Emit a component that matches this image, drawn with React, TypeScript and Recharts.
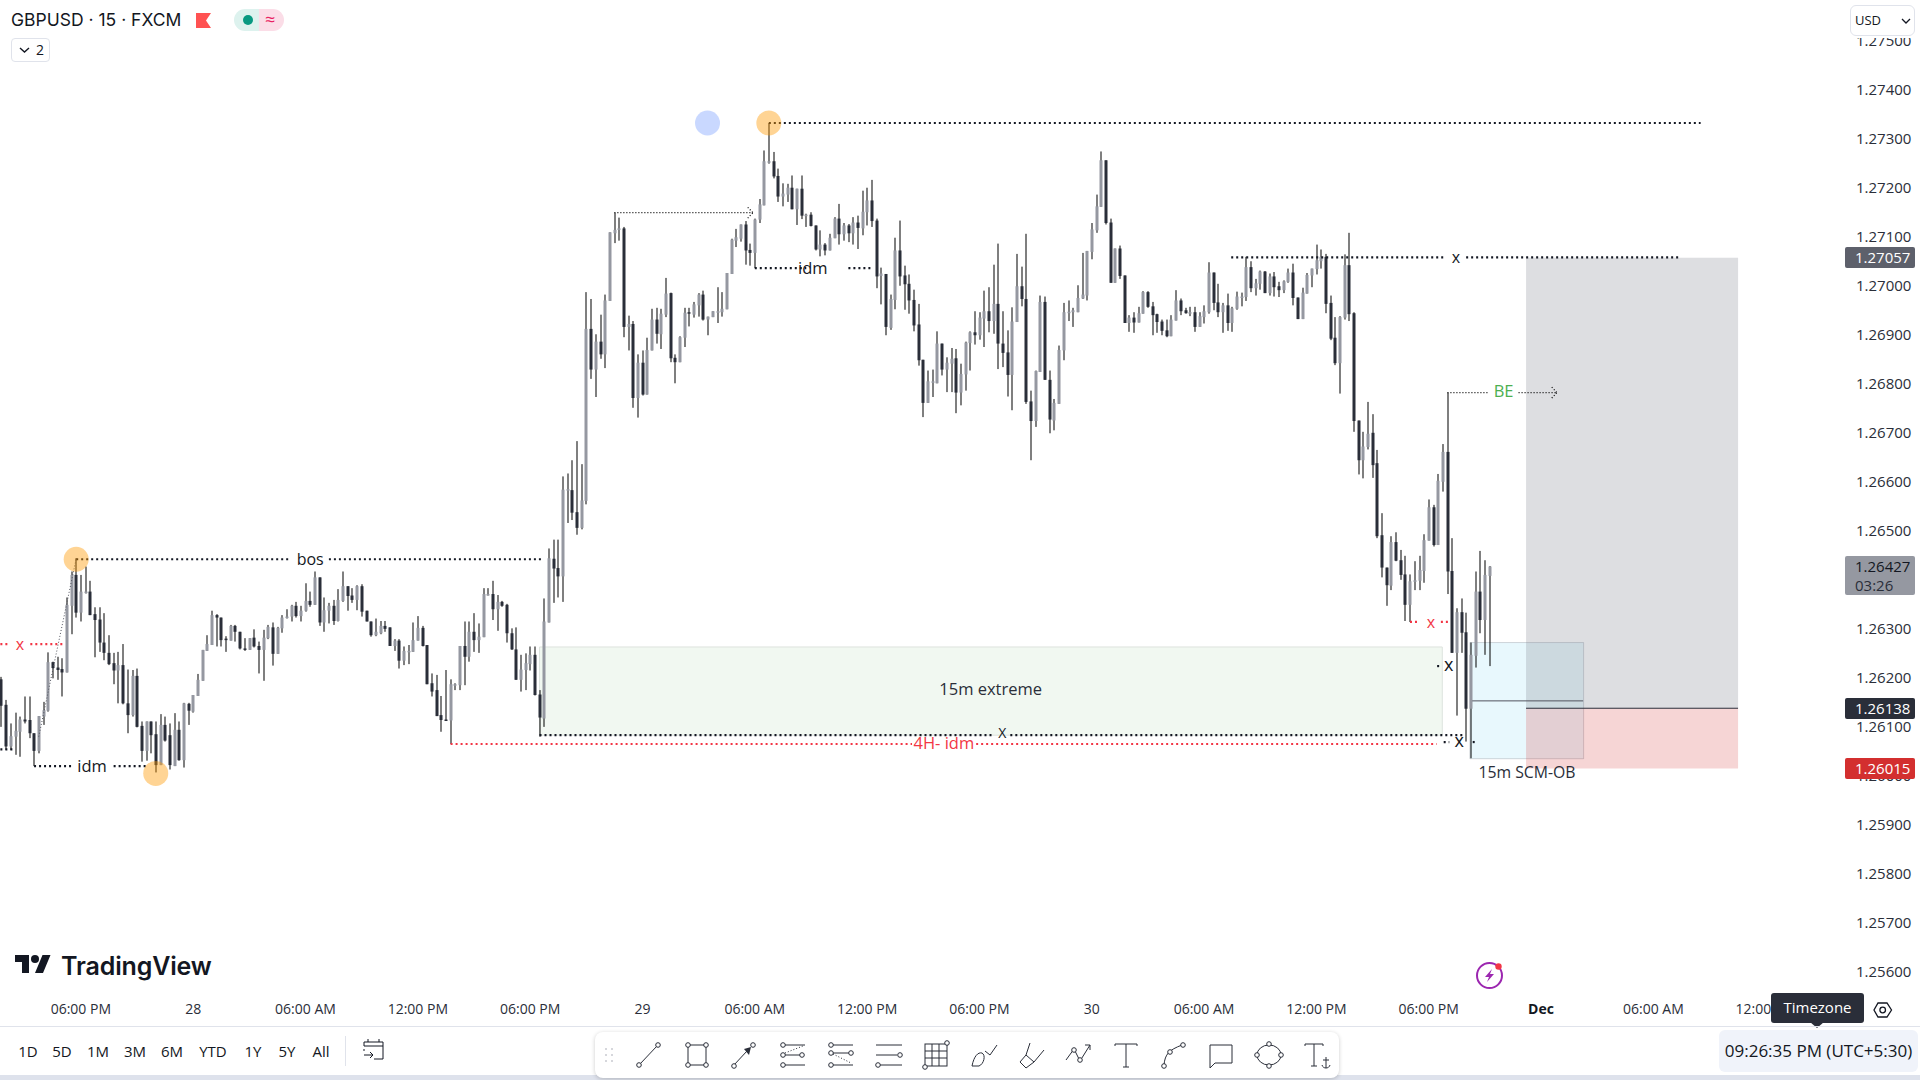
import React from 'react';
import { ComposedChart, Bar, XAxis, YAxis, ReferenceArea, ReferenceLine, ReferenceDot } from 'recharts';

// Prices are kept as points above 1.0 (26427 = 1.26427).
const opens = [
26197,26145,26060,26080,26090,26115,26114,26087,26051,26121,
26133,26232,26221,26218,26211,26347,26410,26333,26374,26376,
26330,26319,26272,26251,26230,26215,26226,26148,26124,26204,
26102,26051,26111,26085,26022,26104,26083,26020,26094,26032,
26147,26131,26163,26194,26255,26267,26328,26323,26280,26276,
26306,26294,26260,26257,26282,26265,26257,26281,26303,26249,
26301,26323,26325,26347,26326,26337,26357,26349,26405,26313,
26337,26347,26316,26357,26387,26368,26359,26387,26337,26315,
26287,26291,26306,26303,26265,26276,26235,26253,26253,26276,
26302,26267,26189,26175,26124,26115,26113,26186,26185,26265,
26243,26294,26277,26283,26370,26371,26340,26355,26349,26291,
26258,26196,26216,26228,26247,26166,26117,26313,26443,26424,
26407,26583,26583,26538,26506,26561,
26912,26829,26886,26860,26969,27107,27114,27117,26916,26922,
26771,26843,26778,26868,26931,26901,26941,26985,26853,26844,
26894,26946,26941,26960,26982,26931,26936,26946,26946,26952,
27024,27092,27096,27125,27073,27067,27135,27164,27252,27254,
27224,27182,27186,27200,27156,27198,27144,27145,27123,27074,
27084,27072,27097,27137,27105,27123,27107,27129,27117,27150,
27174,27133,27020,27024,26914,26971,27072,27021,27004,26971,
26921,26849,26761,26803,26801,26882,26829,26841,26852,26782,
26819,26883,26905,26899,26933,26948,26928,26963,26882,26864,
26818,26926,26999,26973,26764,26724,26824,26967,26808,26725,
26759,26868,26946,26946,26946,26974,26980,
27069,27113,27161,27256,27129,27006,27076,27021,26924,26935,
26925,26943,26987,26958,26942,26927,26909,26897,26929,26970,
26950,26944,26946,26916,26936,26946,27027,26966,26946,26960,
26924,26953,26977,26977,27038,26995,27004,27029,26985,27019,
26999,26991,27008,27027,26976,26932,26984,27021,27034,27050,
27059,26965,26894,26842,26935,27042,26944,26725,26644,26671,
26700,26638,26491,26425,26388,26477,26440,26411,26349,26398,
26398,26418,26480,26548,26471,26600,26661,26418,26251,26334,
26293,26137,26245,26376,26318,26408];

const highs = [
26202,26155,26107,26129,26121,26162,26162,26087,26122,26151,
26252,26233,26243,26240,26364,26417,26444,26410,26427,26398,
26344,26344,26332,26287,26251,26253,26269,26217,26216,26219,
26111,26111,26111,26111,26126,26121,26107,26128,26111,26149,
26149,26165,26208,26257,26287,26337,26330,26323,26285,26308,
26308,26294,26281,26281,26299,26274,26298,26308,26313,26304,
26328,26340,26349,26355,26347,26393,26376,26417,26405,26364,
26353,26359,26381,26417,26387,26383,26389,26391,26337,26315,
26321,26316,26316,26303,26279,26279,26264,26267,26313,26326,
26306,26267,26209,26206,26163,26216,26197,26189,26265,26315,
26315,26332,26311,26383,26383,26398,26369,26357,26351,26301,
26303,26247,26250,26264,26264,26175,26362,26464,26482,26482,
26611,26617,26644,26683,26636,26987,
26973,26901,26941,26982,27109,27149,27139,27120,26939,26928,
26860,26868,26894,26953,26955,26953,27016,26986,26860,26897,
26955,26955,26967,26985,26990,26937,26948,26997,26987,27026,
27096,27116,27125,27132,27086,27137,27177,27276,27332,27273,
27239,27209,27208,27225,27198,27225,27147,27150,27123,27113,
27087,27106,27140,27167,27128,27126,27140,27143,27194,27200,
27216,27137,27037,27024,26982,27098,27133,27041,27023,26992,
26963,26849,26827,26829,26907,26882,26854,26873,26871,26841,
26886,26907,26948,26946,26990,26997,27043,27086,26948,26909,
26956,27065,27039,27106,26786,26827,26980,26978,26827,26769,
26878,26965,26970,26955,27001,27067,27071,
27128,27186,27274,27256,27137,27076,27082,27021,26940,26946,
26957,26989,26989,26967,26943,26931,26931,26940,26991,26974,
26955,26957,26957,26946,26960,27048,27027,27004,26965,26984,
26957,26988,26986,27059,27050,27014,27031,27030,27025,27028,
27008,27011,27035,27045,26976,26996,27026,27035,27084,27074,
27065,26980,26936,26938,27064,27108,26946,26725,26702,26763,
26738,26665,26536,26425,26489,26497,26461,26449,26411,26438,
26449,26493,26564,26553,26616,26677,26782,26485,26342,26362,
26333,26272,26417,26459,26440,26428];

const lows = [
26100,26053,26053,26043,26039,26107,26077,26020,26046,26104,
26131,26199,26196,26162,26211,26289,26323,26315,26372,26328,
26242,26253,26236,26226,26187,26148,26146,26087,26121,26099,
26029,26031,26046,26007,26022,26070,26013,26020,26031,26017,
26104,26129,26163,26194,26255,26267,26264,26264,26253,26276,
26274,26258,26255,26257,26262,26209,26194,26279,26225,26249,
26292,26321,26315,26323,26315,26335,26345,26349,26306,26294,
26311,26308,26315,26355,26337,26353,26338,26325,26315,26284,
26285,26289,26294,26265,26255,26219,26226,26228,26253,26276,
26264,26187,26162,26122,26090,26114,26065,26175,26175,26185,
26233,26253,26251,26283,26368,26318,26296,26345,26272,26257,
26196,26172,26175,26215,26164,26080,26100,26313,26353,26364,
26355,26516,26522,26492,26503,26554,
26810,26773,26851,26832,26969,27087,27092,26895,26868,26751,
26731,26776,26778,26868,26882,26871,26936,26844,26801,26844,
26875,26917,26935,26937,26929,26899,26936,26924,26937,26952,
27024,27079,27090,27043,27041,27036,27128,27164,27249,27219,
27171,27162,27171,27156,27124,27136,27120,27121,27072,27060,
27062,27072,27097,27084,27092,27089,27084,27075,27103,27123,
27120,26995,26962,26899,26910,26952,27000,26951,26943,26907,
26837,26732,26761,26773,26801,26817,26783,26783,26740,26756,
26786,26827,26880,26890,26875,26905,26902,26830,26834,26774,
26746,26926,26958,26759,26644,26712,26824,26808,26699,26705,
26759,26848,26928,26916,26946,26973,26970,
27054,27108,27161,27125,27006,27006,27014,26924,26906,26904,
26925,26943,26955,26899,26904,26899,26895,26897,26929,26940,
26943,26938,26906,26916,26923,26943,26950,26936,26904,26908,
26906,26951,26958,26969,26987,26980,26992,26985,26980,26978,
26977,26985,27006,26960,26932,26932,26984,26997,27023,27035,
26944,26889,26838,26780,26931,26928,26702,26615,26607,26666,
26608,26485,26405,26347,26379,26438,26400,26316,26314,26379,
26379,26394,26480,26468,26471,26580,26371,26251,26123,26251,
26070,26036,26221,26291,26247,26224];

const closes = [
26143,26060,26081,26092,26115,26111,26087,26051,26122,26134,
26232,26220,26216,26211,26349,26410,26333,26376,26376,26328,
26318,26272,26251,26228,26215,26226,26148,26124,26204,26100,
26051,26111,26083,26022,26104,26072,26022,26094,26032,26148,
26133,26165,26196,26257,26269,26328,26323,26277,26279,26306,
26294,26260,26257,26281,26264,26257,26282,26304,26249,26302,
26323,26325,26347,26326,26337,26357,26349,26405,26313,26338,
26347,26316,26359,26387,26367,26359,26387,26335,26315,26287,
26294,26306,26300,26265,26276,26235,26255,26255,26277,26302,
26265,26187,26172,26122,26114,26114,26187,26187,26265,26243,
26294,26277,26284,26371,26371,26340,26355,26347,26291,26258,
26196,26217,26230,26247,26165,26119,26315,26444,26423,26407,
26584,26585,26537,26506,26562,26912,
26829,26886,26860,26970,27109,27114,27117,26916,26922,26771,
26843,26778,26869,26931,26902,26943,26984,26852,26844,26895,
26945,26944,26962,26982,26931,26937,26948,26948,26953,27026,
27094,27099,27125,27072,27067,27135,27166,27254,27254,27223,
27182,27188,27200,27156,27198,27143,27145,27122,27074,27084,
27072,27098,27137,27105,27123,27107,27129,27118,27151,27174,
27132,27019,27025,26916,26973,27072,27019,27003,26970,26919,
26848,26761,26805,26805,26882,26829,26843,26851,26782,26820,
26884,26905,26899,26935,26948,26928,26963,26882,26863,26818,
26927,26999,26973,26763,26724,26826,26967,26808,26727,26761,
26869,26946,26947,26950,26975,26982,27071,
27115,27162,27256,27128,27006,27076,27020,26924,26935,26925,
26944,26987,26957,26940,26926,26908,26897,26931,26970,26948,
26944,26946,26916,26938,26948,27027,26965,26946,26960,26924,
26954,26978,26978,27038,26995,27005,27029,26985,27019,26997,
26991,27009,27027,26975,26932,26986,27022,27035,27052,27059,
26963,26892,26842,26936,27042,26942,26724,26644,26672,26698,
26634,26489,26425,26389,26477,26439,26410,26349,26397,26399,
26420,26481,26548,26471,26602,26661,26417,26251,26334,26292,
26137,26247,26376,26318,26410,26427];

const priceTicks = [1.256,1.257,1.258,1.259,1.26,1.261,1.262,1.263,1.265,1.266,1.267,1.268,1.269,1.27,1.271,1.272,1.273,1.274,1.275];
const priceDomain = [1.25557, 1.27583];
const timeTickBars = [17,41,65,89,113,137,161,185,209,233,257,281,305,329,353,377];
const timeTickLabels = ['06:00 PM','28','06:00 AM','12:00 PM','06:00 PM','29','06:00 AM','12:00 PM','06:00 PM','30','06:00 AM','12:00 PM','06:00 PM','Dec','06:00 AM','12:00 PM'];

const BLACK = '#131722';
const RED = '#f23645';
// [bar1, point1, bar2, point2, colour, width, dash]
const thick = '2 3';
const thin = '1 2';
const levelLines: [number, number, number, number, string, number, string][] = [
  [164, 27332, 363.1, 27332, BLACK, 2.2, thick],
  [16, 26442, 61.5, 26442, BLACK, 2.2, thick],
  [70, 26442, 115.5, 26442, BLACK, 2.2, thick],
  [7, 26020, 15, 26020, BLACK, 2.2, thick],
  [24, 26020, 31, 26020, BLACK, 2.2, thick],
  [-0.2, 26054, 2.8, 26054, BLACK, 2.2, thick],
  [-0.2, 26269, 1.4, 26269, RED, 2.2, thick],
  [6.2, 26269, 13.1, 26269, RED, 2.2, thick],
  [96, 26065, 194.6, 26065, RED, 2.2, thick],
  [208.3, 26065, 306.7, 26065, RED, 2.2, thick],
  [115, 26083, 212.2, 26083, BLACK, 2.2, thick],
  [215.6, 26083, 312.7, 26083, BLACK, 2.2, thick],
  [308.2, 26069, 309.4, 26069, BLACK, 2.2, thick],
  [314.4, 26069, 314.9, 26069, BLACK, 2.2, thick],
  [306.8, 26224, 307.3, 26224, BLACK, 2.2, thick],
  [301, 26314, 302.6, 26314, RED, 2.2, thick],
  [307.6, 26314, 309.2, 26314, RED, 2.2, thick],
  [161, 27036, 172, 27036, BLACK, 2.2, thick],
  [181, 27036, 185.8, 27036, BLACK, 2.2, thick],
  [262.8, 27058, 308.4, 27058, BLACK, 2.2, thick],
  [313, 27058, 358.4, 27058, BLACK, 2.2, thick],
  [131, 27149, 160.6, 27149, '#000000', 1.2, thin],
  [159.5, 27160, 160.6, 27149, '#000000', 1.2, thin],
  [159.5, 27138, 160.6, 27149, '#000000', 1.2, thin],
  [309, 26782, 317.6, 26782, '#000000', 1.2, thin],
  [324.2, 26782, 332.4, 26782, '#000000', 1.2, thin],
  [331.3, 26793, 332.4, 26782, '#000000', 1.2, thin],
  [331.3, 26771, 332.4, 26782, '#000000', 1.2, thin],
  [8, 26080, 16, 26443, '#50535e', 1, '1 2'],
  [-0.3, 26427, 393.9, 26427, '#8f929c', 1, '1 2'],
  [314.3, 26153, 338, 26153, '#50535e', 1, ''],
  [325.8, 26138, 371.1, 26138, '#2a2e39', 1, ''],
];

// [bar1, bar2, point1, point2, fill, stroke]
const zones: [number, number, number, number, string, string][] = [
  [115, 307.9, 26263, 26083, '#f1f8f1', '#dde3de'],
  [313.8, 338.1, 26272, 26035, 'rgba(33,186,235,0.1)', 'rgba(120,123,134,0.3)'],
  [325.8, 371.1, 27057, 26138, 'rgba(120,123,134,0.25)', 'none'],
  [325.8, 371.1, 26138, 26015, 'rgba(210,47,47,0.2)', 'none'],
];

// [bar, point, text, colour, size]
const notes: [number, number, string, string, number][] = [
  [66, 26442, 'bos', BLACK, 16],
  [19.4, 26020, 'idm', BLACK, 16.5],
  [173.4, 27036, 'idm', BLACK, 16.5],
  [4, 26268, 'x', RED, 16],
  [201.4, 26066, '4H- idm', RED, 16.5],
  [213.9, 26087, 'X', BLACK, 14],
  [311.5, 26071, 'x', BLACK, 18],
  [309.3, 26226, 'x', BLACK, 18],
  [305.5, 26314, 'x', RED, 16],
  [310.8, 27058, 'x', BLACK, 16],
  [321, 26785, 'BE', '#4caf50', 16.5],
  [211.4, 26177, '15m extreme', '#2a2e39', 16.5],
  [326, 26007, '15m SCM-OB', '#2a2e39', 15.8],
];

// [bar, point, colour]
const markers: [number, number, string][] = [
  [16, 26442, 'rgba(255,152,0,0.42)'],
  [33, 26005, 'rgba(255,152,0,0.42)'],
  [164, 27332, 'rgba(255,152,0,0.42)'],
  [150.9, 27332, 'rgba(41,98,255,0.25)'],
];

// [point, first line, second line, background, text colour]
const priceTags: [number, string, string, string, string][] = [
  [27057, '1.27057', '', '#5d606b', '#ffffff'],
  [26427, '1.26427', '03:26', '#9598a1', '#131722'],
  [26138, '1.26138', '', '#2a2e39', '#ffffff'],
  [26015, '1.26015', '', '#d32f2f', '#ffffff'],
];

const rangeButtons: [string, number][] = [['1D', 28], ['5D', 62], ['1M', 98], ['3M', 135], ['6M', 172], ['YTD', 213], ['1Y', 253], ['5Y', 287], ['All', 321]];

const P = (p: number) => 1 + p / 100000;
const candles = opens.map((o, i) => ({
  i,
  open: P(o),
  high: P(highs[i]),
  low: P(lows[i]),
  close: P(closes[i]),
  range: [P(lows[i]), P(highs[i])],
}));

const FONT = '"Open Sans", sans-serif';
const CHART_H = 1026;
const PLOT_H = CHART_H - 33;
const priceY = (p: number) => ((priceDomain[1] - P(p)) / (priceDomain[1] - priceDomain[0])) * PLOT_H;

const Candle = (props: any) => {
  const { x, y, width, height, payload } = props;
  const cx = Math.round(x + width / 2);
  const top = Math.min(y, y + height);
  const h = Math.abs(height);
  const k = h / (payload.high - payload.low || 1);
  const up = payload.close >= payload.open;
  const bTop = top + (payload.high - Math.max(payload.open, payload.close)) * k;
  const bH = Math.max(1.5, Math.abs(payload.close - payload.open) * k);
  return (
    <g>
      <rect x={cx - 0.5} y={top} width={1} height={Math.max(h, 1)} fill="#000000" />
      <rect x={cx - 1.5} y={bTop} width={3} height={bH} fill={up ? '#9598a1' : '#2a2e39'} />
    </g>
  );
};

const TimeTick = (props: any) => {
  const { x, y, payload } = props;
  const idx = timeTickBars.indexOf(payload.value);
  const label = timeTickLabels[idx];
  return (
    <text x={x} y={y + 13} textAnchor="middle" fontFamily={FONT} fontSize={14} fontWeight={label === 'Dec' ? 700 : 400} fill={label === 'Dec' ? '#131722' : '#2a2e39'}>
      {label}
    </text>
  );
};

const ink = '#2a2e39';
const N = ({ x, y }: { x: number; y: number }) => <circle cx={x} cy={y} r={2.3} fill="#fff" stroke={ink} strokeWidth={1} />;
const L = ({ a, b, c, d, dash }: { a: number; b: number; c: number; d: number; dash?: string }) => <line x1={a} y1={b} x2={c} y2={d} stroke={ink} strokeWidth={1} strokeDasharray={dash} />;

const toolIcons: React.ReactNode[] = [
  <g><L a={6} b={24} c={23} d={6} /><N x={5} y={25} /><N x={24} y={5} /></g>,
  <g><rect x={6} y={5} width={18} height={20} fill="none" stroke={ink} /><N x={6} y={5} /><N x={24} y={5} /><N x={6} y={25} /><N x={24} y={25} /></g>,
  <g><L a={5} b={25} c={18} d={11} /><path d="M15 9 L22 7 L20 15 Z" fill={ink} /><N x={5} y={26} /><N x={24} y={5} /></g>,
  <g><L a={8} b={5} c={28} d={5} /><L a={8} b={15} c={24} d={15} /><L a={8} b={25} c={28} d={25} /><L a={8} b={13} c={26} d={6} dash="1 2" /><N x={6} y={5} /><N x={25} y={15} /><N x={6} y={15} /><N x={6} y={25} /></g>,
  <g><L a={8} b={5} c={28} d={5} /><L a={8} b={13} c={26} d={13} /><L a={8} b={25} c={28} d={25} /><L a={8} b={14} c={26} d={23} dash="1 2" /><N x={6} y={5} /><N x={6} y={13} /><N x={26} y={13} /><N x={6} y={25} /></g>,
  <g><L a={3} b={5} c={29} d={5} /><L a={3} b={15} c={24} d={15} /><L a={7} b={25} c={29} d={25} /><N x={27} y={15} /><N x={5} y={25} /></g>,
  <g><rect x={5} y={4} width={22} height={22} fill="none" stroke={ink} /><L a={5} b={11} c={27} d={11} /><L a={5} b={18} c={27} d={18} /><L a={12} b={4} c={12} d={26} /><L a={19} b={4} c={19} d={26} /><N x={27} y={3} /><N x={5} y={27} /></g>,
  <g><path d="M4 26 C6 16 10 12 14 13 C18 15 16 24 11 26 Z M17 11 L22 15 L29 5" fill="none" stroke={ink} /></g>,
  <g><path d="M14 3 L10 15 L18 22 L28 10 M10 15 L4 22 L10 28 L18 22" fill="none" stroke={ink} /></g>,
  <g><path d="M3 20 L11 9 L17 21 L27 5 M22 5 L27 5 L27 10" fill="none" stroke={ink} /><N x={11} y={10} /><N x={17} y={20} /></g>,
  <g><path d="M4 6 V4 H26 V6 M15 4 V27 M12 27 H18" fill="none" stroke={ink} /></g>,
  <g><path d="M5 25 C6 14 10 10 23 5" fill="none" stroke={ink} /><N x={5} y={26} /><N x={11} y={12} /><N x={24} y={5} /></g>,
  <g><path d="M4 5 H26 V23 H9 L4 28 Z" fill="none" stroke={ink} /></g>,
  <g><ellipse cx={15} cy={15} rx={12} ry={10} fill="none" stroke={ink} /><N x={15} y={4} /><N x={3} y={15} /><N x={27} y={15} /><N x={15} y={26} /></g>,
  <g><path d="M3 6 V4 H21 V6 M12 4 V26 M9 26 H15 M24 17 V28 M21 20 H27 M20 25 C21 29 27 29 28 25" fill="none" stroke={ink} /></g>,
];

const abs = (left: number, top: number, extra?: React.CSSProperties): React.CSSProperties => ({ position: 'absolute', left, top, ...extra });

export default function App() {
  return (
    <div style={{ position: 'absolute', left: 0, top: 0, width: 1920, height: 1080, background: '#fff', overflow: 'hidden', fontFamily: FONT, color: '#131722' }}>
      <ComposedChart width={1920} height={CHART_H} data={candles} margin={{ top: 0, right: 0, bottom: 0, left: 0 }} barCategoryGap={0}>
        <XAxis type="number" dataKey="i" domain={[-0.278, 393.95]} allowDataOverflow ticks={timeTickBars} interval={0} height={33} tickLine={false} axisLine={false} tick={<TimeTick />} />
        <YAxis orientation="right" type="number" domain={priceDomain} allowDataOverflow ticks={priceTicks} interval={0} width={75} tickLine={false} axisLine={false} tickMargin={5}
          tick={{ fontFamily: FONT, fontSize: 15, fill: '#2a2e39' }} tickFormatter={(v: number) => v.toFixed(5)} />
        {zones.map((z, k) => (
          <ReferenceArea key={'z' + k} x1={z[0]} x2={z[1]} y1={P(z[2])} y2={P(z[3])} fill={z[4]} fillOpacity={1} stroke={z[5]} />
        ))}
        <Bar dataKey="range" isAnimationActive={false} shape={Candle} />
        {levelLines.map((l, k) => (
          <ReferenceLine key={'l' + k} segment={[{ x: l[0], y: P(l[1]) }, { x: l[2], y: P(l[3]) }]} stroke={l[4]} strokeWidth={l[5]} strokeDasharray={l[6]} />
        ))}
        {markers.map((m, k) => (
          <ReferenceDot key={'m' + k} x={m[0]} y={P(m[1])} r={12.5} fill={m[2]} stroke="none" />
        ))}
        {notes.map((n, k) => (
          <ReferenceDot key={'n' + k} x={n[0]} y={P(n[1])} r={0.1} fill="none" stroke="none"
            label={{ value: n[2], position: 'center', fill: n[3], fontSize: n[4], fontFamily: FONT }} />
        ))}
      </ComposedChart>

      {/* price tags */}
      {priceTags.map((t) => {
        const yy = priceY(t[0]);
        const tall = t[2] !== '';
        return (
          <div key={t[1]} style={abs(1845, yy - 10.5, { width: 70, height: tall ? 39 : 21, background: t[3], borderRadius: 2, color: t[4], fontSize: 15, lineHeight: '21px', paddingLeft: 10, boxSizing: 'border-box' })}>
            <div>{t[1]}</div>
            {tall ? <div style={{ lineHeight: '17px', color: '#2a2e39' }}>{t[2]}</div> : null}
          </div>
        );
      })}

      {/* header */}
      <div style={abs(11, 8, { fontSize: 17.5, fontFamily: 'Inter, sans-serif', whiteSpace: 'nowrap', lineHeight: '24px', color: '#131722' })}>GBPUSD · 15 · FXCM</div>
      <svg style={abs(196, 13)} width={16} height={16}><path d="M0 0 H15 L10 7.5 L15 15 H0 Z" fill="#ff5252" /></svg>
      <div style={abs(234, 9, { width: 25, height: 22, background: '#ddf2ee', borderRadius: '11px 0 0 11px' })} />
      <div style={abs(259, 9, { width: 25, height: 22, background: '#fbdde7', borderRadius: '0 11px 11px 0' })} />
      <div style={abs(243, 15, { width: 10, height: 10, background: '#089981', borderRadius: 5 })} />
      <div style={abs(265, 7, { fontSize: 18, color: '#e91e63', lineHeight: '24px' })}>≈</div>
      <div style={abs(11, 38, { width: 39, height: 24, boxSizing: 'border-box', border: '1px solid #e0e3eb', borderRadius: 4, fontSize: 14, lineHeight: '22px', paddingLeft: 24 })}>2</div>
      <svg style={abs(19, 46)} width={12} height={8}><path d="M1 2 L5.5 6 L10 2" fill="none" stroke="#131722" strokeWidth={1.4} /></svg>

      {/* currency button */}
      <div style={abs(1845, 0, { width: 75, height: 38, background: '#fff' })} />
      <div style={abs(1850, 5, { width: 65, height: 31, boxSizing: 'border-box', background: '#fff', border: '1px solid #e0e3eb', borderRadius: 6, fontSize: 13, lineHeight: '29px', paddingLeft: 4 })}>USD</div>
      <svg style={abs(1901, 18)} width={10} height={7}><path d="M1 1 L5 5 L9 1" fill="none" stroke="#131722" strokeWidth={1.3} /></svg>

      {/* watermark logo */}
      <svg style={abs(15, 951)} width={36} height={28} viewBox="0 0 36 28"><path d="M14 22H7V11H0V4h14v18zM28 22h-8l7.5-18h8L28 22z" fill="#131722" /><circle cx={20} cy={8} r={4} fill="#131722" /></svg>
      <div style={abs(61, 949, { fontSize: 25, fontWeight: 600, fontFamily: 'Inter, sans-serif', lineHeight: '34px', letterSpacing: -0.15, color: '#131722' })}>TradingView</div>

      {/* lightning */}
      <svg style={abs(1474, 960)} width={32} height={32}>
        <circle cx={15.5} cy={15.5} r={12.5} fill="none" stroke="#9c27b0" strokeWidth={2} />
        <path d="M18 9 L11 17 H15 L13 22 L20 14 H16 Z" fill="#9c27b0" />
        <circle cx={24.5} cy={6.5} r={3.2} fill="#f23645" />
      </svg>

      {/* tooltip and gear */}
      <div style={abs(1771, 993, { width: 93, height: 30, background: '#2a2e39', borderRadius: 3, color: '#fff', fontSize: 15, lineHeight: '28px', textAlign: 'center' })}>Timezone</div>
      <svg style={abs(1810, 1022)} width={14} height={7}><path d="M0 0 H14 L7 6 Z" fill="#2a2e39" /></svg>
      <svg style={abs(1873, 1000)} width={20} height={20}>
        <path d="M5 3 H14 L18.5 10 L14 17 H5 L1 10 Z" fill="none" stroke="#131722" strokeWidth={1.3} />
        <circle cx={9.7} cy={10} r={2.8} fill="none" stroke="#131722" strokeWidth={1.3} />
      </svg>

      {/* bottom bar */}
      <div style={abs(0, 1026, { width: 1920, height: 1, background: '#e0e3eb' })} />
      <div style={abs(0, 1075, { width: 1920, height: 5, background: '#dee2ec' })} />
      {rangeButtons.map(([t, x]) => (
        <div key={t} style={abs(x - 25, 1040, { width: 50, textAlign: 'center', fontSize: 15, lineHeight: '22px', color: '#131722' })}>{t}</div>
      ))}
      <div style={abs(345, 1036, { width: 1, height: 30, background: '#e0e3eb' })} />
      <svg style={abs(362, 1037)} width={24} height={26}>
        <path d="M2 9 V5 H21 V22 H12 M2 9 H21 M6 2 V5 M17 2 V5 M2 12 V14 M2 18 H11 M8 15 L11 18 L8 21" fill="none" stroke="#131722" strokeWidth={1} />
      </svg>

      {/* drawing toolbar */}
      <div style={abs(595, 1032, { width: 744, height: 46, background: '#fff', borderRadius: 8, boxShadow: '0 1px 4px rgba(0,0,0,0.2)' })} />
      <svg style={abs(604, 1047)} width={10} height={16}>
        {[2, 8].map((x) => [2, 8, 14].map((y) => <circle key={x + '-' + y} cx={x} cy={y} r={1} fill="#c8cad0" />))}
      </svg>
      {toolIcons.map((ic, k) => (
        <svg key={k} style={abs(634 + k * 47.7, 1040)} width={32} height={30}>{ic}</svg>
      ))}

      {/* clock */}
      <div style={abs(1719, 1030, { width: 199, height: 42, background: '#f0f3fa', borderRadius: 6, fontSize: 17, lineHeight: '42px', textAlign: 'center', whiteSpace: 'nowrap', color: '#131722' })}>09:26:35 PM (UTC+5:30)</div>
    </div>
  );
}
